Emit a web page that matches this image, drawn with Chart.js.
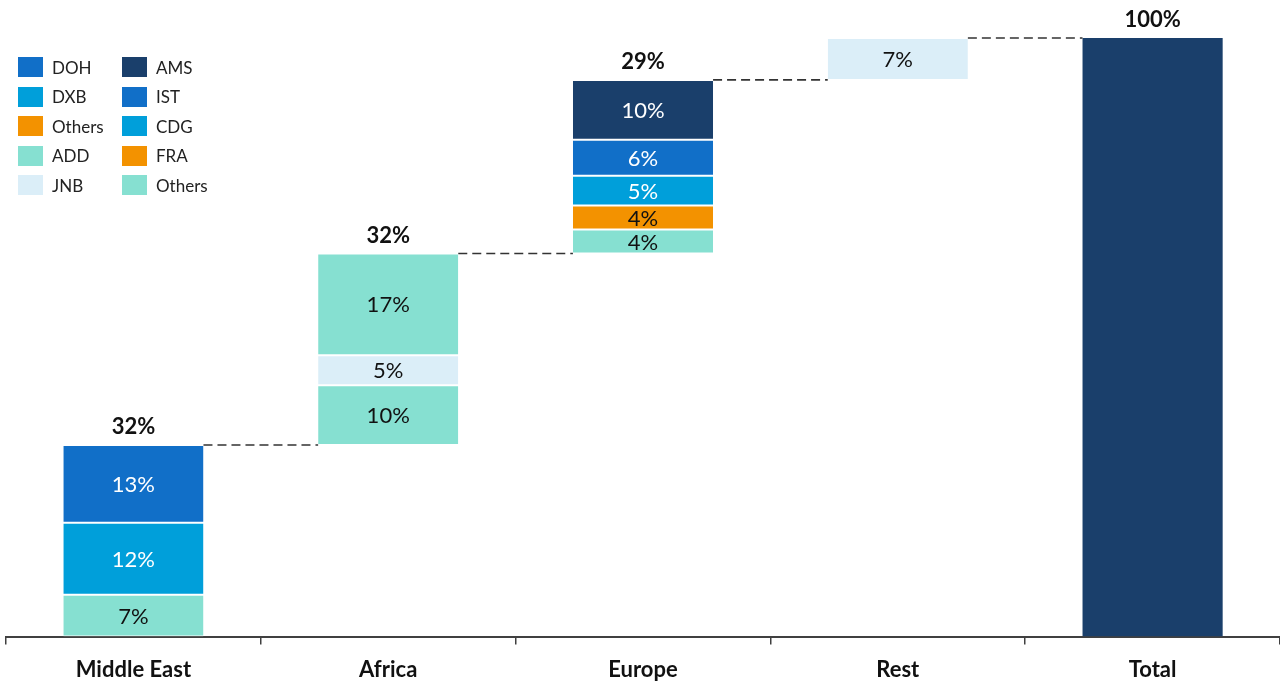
<!DOCTYPE html>
<html>
<head>
<meta charset="utf-8">
<script src="https://cdn.jsdelivr.net/npm/chart.js@4/dist/chart.umd.min.js"></script>
<style>
  body { margin: 0; background: #fff; }
  #wrap { position: relative; width: 1280px; height: 684px; }
  #legend { position: absolute; left: 18px; top: 57px; display: grid; grid-template-columns: 104px 100px; row-gap: 9.5px; font-family: Lato, "Open Sans", sans-serif; font-size: 17px; color: #222; }
  #legend div { display: flex; align-items: center; height: 20px; }
  #legend span.sw { display: inline-block; width: 25px; height: 20px; margin-right: 9px; }
</style>
</head>
<body>
<div id="wrap">
  <canvas id="chart"></canvas>
  <div id="legend"></div>
</div>
<script>
const categories = ['Middle East', 'Africa', 'Europe', 'Rest', 'Total'];

// segments bottom-up for each column
const meNames = ['Others', 'DXB', 'DOH'];
const meValues = [7, 12, 13];
const afNames = ['Others', 'JNB', 'ADD'];
const afValues = [10, 5, 17];
const euNames = ['Others', 'FRA', 'CDG', 'IST', 'AMS'];
const euValues = [4, 4, 5, 6, 10];
const restNames = ['Rest'];
const restValues = [7];
const totalNames = ['Total'];
const totalValues = [100];

const legendLeft = ['DOH', 'DXB', 'Others', 'ADD', 'JNB'];
const legendLeftColors = ['#116fc8', '#009fda', '#f39200', '#86e0d1', '#dbeef8'];
const legendRight = ['AMS', 'IST', 'CDG', 'FRA', 'Others'];
const legendRightColors = ['#1a3f6b', '#116fc8', '#009fda', '#f39200', '#86e0d1'];

const colorOf = {
    DOH: '#116fc8', DXB: '#009fda', Others: '#86e0d1', ADD: '#86e0d1', JNB: '#dbeef8',
    AMS: '#1a3f6b', IST: '#116fc8', CDG: '#009fda', FRA: '#f39200',
    Rest: '#dbeef8', Total: '#1a3f6b'
};
const darkFill = ['#116fc8', '#009fda', '#1a3f6b'];

const groups = [
    [meNames, meValues], [afNames, afValues], [euNames, euValues],
    [restNames, restValues], [totalNames, totalValues]
];

// build floating bars; each column starts where the previous one ended (total starts at 0)
const datasets = [];
const tops = [];
const sums = [];
let running = 0;
groups.forEach(([names, vals], ci) => {
    const last = ci === categories.length - 1;
    let start = last ? 0 : running;
    names.forEach((n, k) => {
        const data = categories.map(() => null);
        data[ci] = [start, start + vals[k]];
        datasets.push({
            label: n,
            data: data,
            value: vals[k],
            backgroundColor: colorOf[n],
            borderColor: '#ffffff',
            borderWidth: last ? 0 : { top: 1, bottom: 1 },
            borderSkipped: false,
            barPercentage: 0.55,
            categoryPercentage: 1
        });
        start += vals[k];
    });
    const sum = vals.reduce((a, b) => a + b, 0);
    sums.push(sum);
    tops.push(last ? sum : running + sum);
    if (!last) running += sum;
});

const topLabelShown = [true, true, true, false, true];

const labelsPlugin = {
    id: 'labels',
    afterDatasetsDraw(chart) {
        const ctx = chart.ctx;
        const y = chart.scales.y;
        ctx.save();
        ctx.textAlign = 'center';
        ctx.textBaseline = 'middle';
        // segment values
        chart.data.datasets.forEach((ds, di) => {
            const meta = chart.getDatasetMeta(di);
            meta.data.forEach((bar, i) => {
                if (!ds.data[i] || ds.label === 'Total') return;
                const mid = (bar.y + bar.base) / 2;
                ctx.font = '22px Lato, "Open Sans", sans-serif';
                ctx.fillStyle = darkFill.includes(ds.backgroundColor) ? '#ffffff' : '#111111';
                ctx.fillText(ds.value + '%', bar.x, mid + 1);
            });
        });
        // column sums + dashed connectors
        const barsByCol = categories.map(() => []);
        chart.data.datasets.forEach((ds, di) => {
            chart.getDatasetMeta(di).data.forEach((bar, i) => { if (ds.data[i]) barsByCol[i].push(bar); });
        });
        ctx.font = 'bold 22px Lato, "Open Sans", sans-serif';
        ctx.fillStyle = '#111111';
        tops.forEach((t, i) => {
            const b = barsByCol[i][0];
            const yy = y.getPixelForValue(t);
            if (topLabelShown[i]) ctx.fillText(sums[i] + '%', b.x, yy - 18);
            if (i < tops.length - 1) {
                const nb = barsByCol[i + 1][0];
                ctx.beginPath();
                ctx.setLineDash([9, 5]);
                ctx.strokeStyle = '#333333';
                ctx.lineWidth = 1.6;
                ctx.moveTo(b.x + b.width / 2, yy);
                ctx.lineTo(nb.x - nb.width / 2, yy);
                ctx.stroke();
                ctx.setLineDash([]);
            }
        });
        ctx.restore();
    }
};

new Chart(document.getElementById('chart'), {
    type: 'bar',
    data: { labels: categories, datasets: datasets },
    options: {
        responsive: true,
        maintainAspectRatio: false,
        animation: false,
        layout: { padding: { left: 6, right: 0, top: 38, bottom: -11 } },
        plugins: { legend: { display: false }, tooltip: { enabled: false } },
        scales: {
            x: {
                stacked: true,
                grid: { drawOnChartArea: false, drawTicks: true, tickLength: 8, color: '#404040', lineWidth: 1.5 },
                border: { display: true, color: '#404040', width: 2 },
                ticks: { color: '#111', font: { family: 'Lato, "Open Sans", sans-serif', size: 22, weight: 'bold' }, padding: 12 }
            },
            y: { display: false, min: 0, max: 100, stacked: false }
        }
    },
    plugins: [labelsPlugin]
});

const legendEl = document.getElementById('legend');
legendLeft.forEach((n, i) => {
    [[n, legendLeftColors[i]], [legendRight[i], legendRightColors[i]]].forEach(([name, c]) => {
        const d = document.createElement('div');
        d.innerHTML = '<span class="sw" style="background:' + c + '"></span>' + name;
        legendEl.appendChild(d);
    });
});
</script>
</body>
</html>
